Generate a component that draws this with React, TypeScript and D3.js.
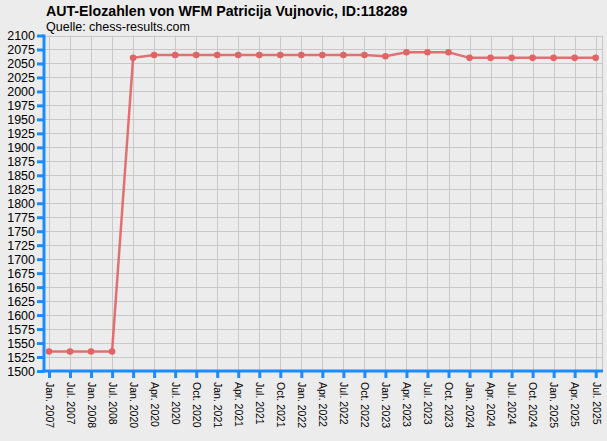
import { useEffect, useRef } from 'react';
import * as d3 from 'd3';

const categories = [
  'Jan. 2007', 'Jul. 2007', 'Jan. 2008', 'Jul. 2008',
  'Jan. 2020', 'Apr. 2020', 'Jul. 2020', 'Oct. 2020',
  'Jan. 2021', 'Apr. 2021', 'Jul. 2021', 'Oct. 2021',
  'Jan. 2022', 'Apr. 2022', 'Jul. 2022', 'Oct. 2022',
  'Jan. 2023', 'Apr. 2023', 'Jul. 2023', 'Oct. 2023',
  'Jan. 2024', 'Apr. 2024', 'Jul. 2024', 'Oct. 2024',
  'Jan. 2025', 'Apr. 2025', 'Jul. 2025',
];

const elo = [
  1535, 1535, 1535, 1535,
  2060, 2065, 2065, 2065,
  2065, 2065, 2065, 2065,
  2065, 2065, 2065, 2065,
  2063, 2070, 2070, 2070,
  2060, 2060, 2060, 2060,
  2060, 2060, 2060,
];

const yTicks = d3.range(1500, 2101, 25);

const title = 'AUT-Elozahlen von WFM Patricija Vujnovic, ID:118289';
const subtitle = 'Quelle: chess-results.com';

export default function App() {
  const svgRef = useRef<SVGSVGElement | null>(null);

  useEffect(() => {
    if (!svgRef.current) return;
    const W = 607, H = 441;
    const plot = { left: 44, right: 602, top: 35.5, bottom: 371 };
    const axisColor = '#1a8cff';
    const lineColor = '#e06464';
    const font = 'Liberation Sans, Arial, sans-serif';

    const svg = d3.select(svgRef.current);
    svg.selectAll('*').remove();

    svg.append('rect').attr('width', W).attr('height', H).attr('fill', '#ececec');

    const x = d3.scalePoint<string>().domain(categories).range([49, 595.7]);
    const y = d3.scaleLinear().domain([1500, 2100]).range([plot.bottom, plot.top]);

    // grid
    const grid = svg.append('g').attr('stroke', '#c8c8c8').attr('stroke-width', 1);
    yTicks.forEach(t => {
      grid.append('line')
        .attr('x1', plot.left).attr('x2', plot.right)
        .attr('y1', Math.round(y(t)) + 0.5).attr('y2', Math.round(y(t)) + 0.5);
    });
    categories.forEach(c => {
      grid.append('line')
        .attr('x1', Math.round(x(c)!) + 0.5).attr('x2', Math.round(x(c)!) + 0.5)
        .attr('y1', plot.top).attr('y2', plot.bottom);
    });
    grid.append('line')
      .attr('x1', plot.right + 0.5).attr('x2', plot.right + 0.5)
      .attr('y1', plot.top).attr('y2', plot.bottom);

    // line + markers
    const pts = categories.map((c, i) => [x(c)!, y(elo[i])] as [number, number]);
    svg.append('path')
      .attr('d', d3.line()(pts)!)
      .attr('fill', 'none')
      .attr('stroke', lineColor)
      .attr('stroke-width', 2.5)
      .attr('stroke-opacity', 0.9);
    svg.append('g').selectAll('circle').data(pts).join('circle')
      .attr('cx', d => d[0]).attr('cy', d => d[1]).attr('r', 3.3)
      .attr('fill', lineColor);

    // axes
    const yAxis = svg.append('g').attr('transform', `translate(${plot.left},0)`)
      .call(d3.axisLeft(y).tickValues(yTicks).tickSize(7).tickPadding(2).tickFormat(d3.format('d')));
    yAxis.select('.domain').remove();
    yAxis.selectAll('line').attr('stroke', axisColor).attr('stroke-width', 3);
    yAxis.selectAll('text')
      .attr('font-family', font)
      .attr('font-size', 12.5).attr('fill', '#000');
    svg.append('line')
      .attr('x1', plot.left).attr('x2', plot.left)
      .attr('y1', plot.top - 1).attr('y2', plot.bottom + 1.5)
      .attr('stroke', axisColor).attr('stroke-width', 3);

    const xAxis = svg.append('g').attr('transform', `translate(0,${plot.bottom})`)
      .call(d3.axisBottom(x).tickSize(7).tickPadding(4));
    xAxis.select('.domain').remove();
    xAxis.selectAll('line').attr('stroke', axisColor).attr('stroke-width', 3);
    xAxis.selectAll('text')
      .attr('font-family', font)
      .attr('font-size', 10.5).attr('fill', '#000')
      .attr('transform', 'rotate(90)')
      .attr('text-anchor', 'start')
      .attr('dy', '0.35em')
      .attr('x', 11)
      .attr('y', 0);
    svg.append('line')
      .attr('x1', plot.left - 1.5).attr('x2', plot.right + 1)
      .attr('y1', plot.bottom).attr('y2', plot.bottom)
      .attr('stroke', axisColor).attr('stroke-width', 3);

    // titles
    svg.append('text').attr('x', 46).attr('y', 16)
      .attr('font-family', font)
      .attr('font-size', 14.2).attr('font-weight', 'bold').text(title);
    svg.append('text').attr('x', 46).attr('y', 31)
      .attr('font-family', font)
      .attr('font-size', 12.5).text(subtitle);
  }, []);

  return (
    <svg ref={svgRef} width={607} height={441}
      style={{ position: 'absolute', left: 0, top: 0, display: 'block' }} />
  );
}
